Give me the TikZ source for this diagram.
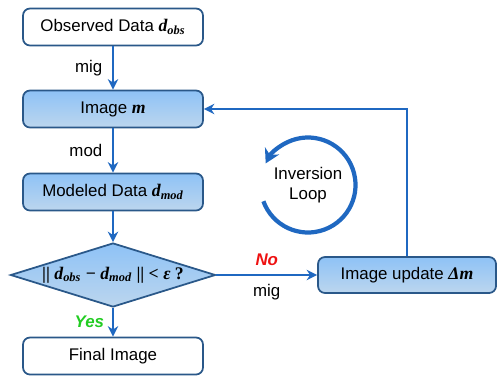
\documentclass[tikz,border=0pt]{standalone}
\usepackage{fontspec}
\setmainfont{Liberation Sans}
\newfontfamily\tnr[Scale=1.05]{Liberation Serif}
\usetikzlibrary{shapes.geometric,arrows.meta}

\definecolor{boxline}{HTML}{2A5889}
\definecolor{boxtop}{HTML}{8EC2F6}
\definecolor{boxbot}{HTML}{BCD6EE}
\definecolor{flow}{HTML}{1F68C1}
\definecolor{yesgreen}{HTML}{22CC22}
\definecolor{nored}{HTML}{EE1111}

\newcommand{\mvar}[2]{{\tnr\bfseries\itshape #1\textsubscript{#2}}}

\begin{document}
\begin{tikzpicture}[
    font=\fontsize{9.6}{11}\selectfont,
    plainbox/.style={draw=boxline, line width=1pt, rounded corners=4pt, fill=white,
      minimum width=3.6cm, minimum height=0.74cm},
    bluebox/.style={plainbox, top color=boxtop, bottom color=boxbot},
    checkbox/.style={diamond, draw=boxline, line width=1pt, top color=boxtop, bottom color=boxbot,
      aspect=3.2, inner sep=0pt, minimum width=4.1cm, minimum height=1.28cm},
    flowline/.style={draw=flow, line width=1.5pt, -{Stealth[length=6pt,width=6pt]}}
  ]
    % Frame
    \useasboundingbox (0,0) rectangle (9.94,7.58);

    % Main column
    \node[plainbox] (obs) at (2.26, 7.04) {Observed Data \mvar{d}{obs}};
    \node[bluebox] (img) at (2.26, 5.40) {Image {\tnr\bfseries\itshape m}};
    \node[bluebox] (moddata) at (2.26, 3.74) {Modeled Data \mvar{d}{mod}};
    \node[checkbox] (check) at (2.26, 2.08)
      {{\tnr\bfseries || \mvar{d}{obs} − \mvar{d}{mod} || < \textit{ε} ?}};
    \node[plainbox] (final) at (2.26, 0.46) {Final Image};

    % Update step
    \node[bluebox, minimum width=3.56cm, minimum height=0.72cm] (upd) at (8.14, 2.08)
      {Image update {\tnr\bfseries\itshape Δm}};
    \coordinate (corner) at (upd.north |- img.east);

    % Connectors
    \draw[flowline] (obs) -- node[left=2pt] {mig} (img);
    \draw[flowline] (img) -- node[left=2pt] {mod} (moddata);
    \draw[flowline] (moddata) -- (check);
    \draw[flowline] (check) -- node[left=1pt] {\textcolor{yesgreen}{\bfseries\itshape Yes}} (final);
    \draw[flowline] (check) -- node[above=1pt] {\textcolor{nored}{\bfseries\itshape No}}
      node[below=1pt] {mig} (upd);
    \draw[flowline] (upd.north) -- (corner) -- (img.east);

    % Loop sign
    \coordinate (loopc) at (6.16, 3.88);
    \draw[draw=flow, line width=2.4pt, -{Stealth[length=8pt,width=9pt]}]
      ([shift={(200:0.95)}]loopc) arc[start angle=200, end angle=513, radius=0.95];
    \node[align=center] (looptext) at (loopc) {Inversion\\Loop};
  \end{tikzpicture}
\end{document}
